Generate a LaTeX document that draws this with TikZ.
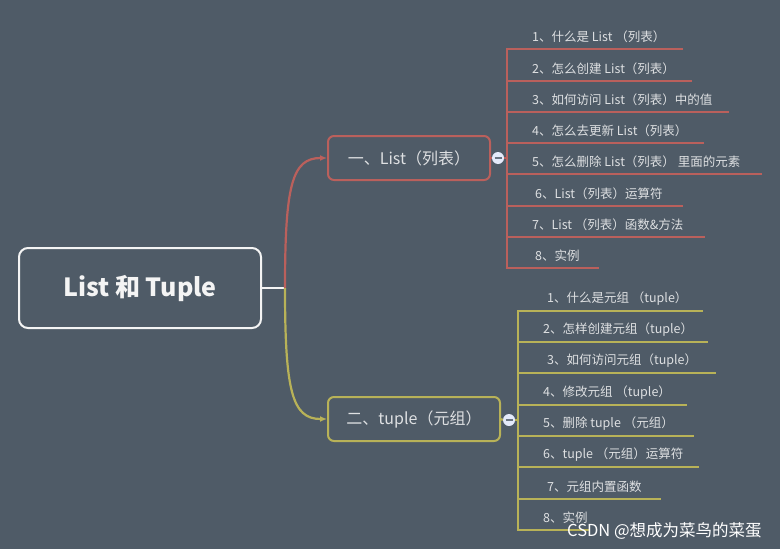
\documentclass[tikz,border=0pt]{standalone}
\usepackage{fontspec}
\setmainfont{Noto Sans CJK SC}
\usetikzlibrary{
  arrows.meta,
  positioning,
  calc
}
\definecolor{bgcolor}{RGB}{79, 91, 103}
\definecolor{rootcolor}{RGB}{244, 244, 244}
\definecolor{listcolor}{RGB}{186, 96, 92}
\definecolor{tuplecolor}{RGB}{184, 178, 88}
\definecolor{labelcolor}{RGB}{222, 224, 226}
\definecolor{knobcolor}{RGB}{228, 234, 250}
\definecolor{knobbar}{RGB}{105, 116, 130}
\tikzset{
rootblock/.style={
  draw=rootcolor,
  line width=2pt,
  rounded corners=9pt,
  minimum width=242pt,
  minimum height=80pt,
  text=rootcolor,
  font=\fontsize{25}{29}\selectfont\bfseries
},
branchblock/.style={
  draw=#1,
  line width=2pt,
  rounded corners=6pt,
  minimum height=44pt,
  text=labelcolor,
  font=\fontsize{16}{19}\selectfont
},
itemtext/.style={
  anchor=west,
  inner sep=0pt,
  text=labelcolor,
  font=\fontsize{12.5}{15}\selectfont
},
knob/.style={
  circle,
  fill=knobcolor,
  inner sep=0pt,
  minimum size=12pt
},
knobline/.style={
  draw=knobbar,
  line width=1.6pt
},
rootline/.style={
  draw=rootcolor,
  line width=2pt
},
listline/.style={
  draw=listcolor,
  line width=2.2pt
},
tupleline/.style={
  draw=tuplecolor,
  line width=2.2pt
},
arrow/.style={
  -{Latex[length=7pt,width=6pt]}
},
watermark/.style={
  anchor=west,
  inner sep=0pt,
  text=white,
  font=\fontsize{16.5}{19}\selectfont
}
}

\begin{document}
\begin{tikzpicture}[x=1pt, y=-1pt]

% ============================================================================
% FUNDO
% ============================================================================
\fill[bgcolor] (0,0) rectangle (780,549);
\useasboundingbox (0,0) rectangle (780,549);

% ============================================================================
% RAIZ
% ============================================================================
\node[rootblock] (root) at (140, 288) {List 和 Tuple};
\coordinate (hub) at (285, 288);
\draw[rootline] (root.east) -- (hub);

% ============================================================================
% RAMO LIST (Cima)
% ============================================================================
\node[branchblock=listcolor, minimum width=162pt] (list) at (409, 158) {一、List（列表）};
\draw[listline, arrow] (hub) .. controls (285, 185) and (292, 158) .. (list.west);

\node[knob] (listknob) at (498, 158) {};
\draw[knobline] ([xshift=-3.5pt]listknob.center) -- ([xshift=3.5pt]listknob.center);
\draw[listline] (list.east) -- (listknob.west);

\coordinate (l1a) at (507, 49);  \coordinate (l1b) at (683, 49);
\coordinate (l2a) at (507, 81);  \coordinate (l2b) at (692, 81);
\coordinate (l3a) at (507, 112); \coordinate (l3b) at (729, 112);
\coordinate (l4a) at (507, 143); \coordinate (l4b) at (704, 143);
\coordinate (l5a) at (507, 174); \coordinate (l5b) at (762, 174);
\coordinate (l6a) at (507, 206); \coordinate (l6b) at (683, 206);
\coordinate (l7a) at (507, 237); \coordinate (l7b) at (705, 237);
\coordinate (l8a) at (507, 268); \coordinate (l8b) at (599, 268);

\draw[listline] (listknob.east) -- (listknob.east -| l1a);
\draw[listline, line cap=rect] (l1a) -- (l8a);

\node[itemtext] (l1) at (532, 37)  {1、什么是 List （列表）};
\node[itemtext] (l2) at (532, 69)  {2、怎么创建 List（列表）};
\node[itemtext] (l3) at (532, 100) {3、如何访问 List（列表）中的值};
\node[itemtext] (l4) at (532, 131) {4、怎么去更新 List（列表）};
\node[itemtext] (l5) at (532, 162) {5、怎么删除 List（列表） 里面的元素};
\node[itemtext] (l6) at (535, 194) {6、List（列表）运算符};
\node[itemtext] (l7) at (532, 225) {7、List （列表）函数\&方法};
\node[itemtext] (l8) at (535, 256) {8、实例};

\draw[listline] (l1a) -- (l1b);
\draw[listline] (l2a) -- (l2b);
\draw[listline] (l3a) -- (l3b);
\draw[listline] (l4a) -- (l4b);
\draw[listline] (l5a) -- (l5b);
\draw[listline] (l6a) -- (l6b);
\draw[listline] (l7a) -- (l7b);
\draw[listline] (l8a) -- (l8b);

% ============================================================================
% RAMO TUPLE (Baixo)
% ============================================================================
\node[branchblock=tuplecolor, minimum width=172pt] (tuple) at (414, 419) {二、tuple（元组）};
\draw[tupleline, arrow] (hub) .. controls (285, 391) and (292, 419) .. (tuple.west);

\node[knob] (tupleknob) at (509, 420) {};
\draw[knobline] ([xshift=-3.5pt]tupleknob.center) -- ([xshift=3.5pt]tupleknob.center);
\draw[tupleline] (tuple.east) -- (tupleknob.west);

\coordinate (t1a) at (518, 311); \coordinate (t1b) at (703, 311);
\coordinate (t2a) at (518, 342); \coordinate (t2b) at (708, 342);
\coordinate (t3a) at (518, 373); \coordinate (t3b) at (716, 373);
\coordinate (t4a) at (518, 405); \coordinate (t4b) at (687, 405);
\coordinate (t5a) at (518, 436); \coordinate (t5b) at (694, 436);
\coordinate (t6a) at (518, 467); \coordinate (t6b) at (699, 467);
\coordinate (t7a) at (518, 499); \coordinate (t7b) at (661, 499);
\coordinate (t8a) at (518, 530); \coordinate (t8b) at (590, 530);

\draw[tupleline] (tupleknob.east) -- (tupleknob.east -| t1a);
\draw[tupleline, line cap=rect] (t1a) -- (t8a);

\node[itemtext] (t1) at (547, 299) {1、什么是元组 （tuple）};
\node[itemtext] (t2) at (543, 330) {2、怎样创建元组（tuple）};
\node[itemtext] (t3) at (547, 361) {3、如何访问元组（tuple）};
\node[itemtext] (t4) at (543, 393) {4、修改元组 （tuple）};
\node[itemtext] (t5) at (543, 424) {5、删除 tuple （元组）};
\node[itemtext] (t6) at (543, 455) {6、tuple （元组）运算符};
\node[itemtext] (t7) at (547, 487) {7、元组内置函数};
\node[itemtext] (t8) at (543, 518) {8、实例};

\draw[tupleline] (t1a) -- (t1b);
\draw[tupleline] (t2a) -- (t2b);
\draw[tupleline] (t3a) -- (t3b);
\draw[tupleline] (t4a) -- (t4b);
\draw[tupleline] (t5a) -- (t5b);
\draw[tupleline] (t6a) -- (t6b);
\draw[tupleline] (t7a) -- (t7b);
\draw[tupleline] (t8a) -- (t8b);

% Marca d'agua
\node[watermark] (mark) at (567, 531) {CSDN @想成为菜鸟的菜蛋};

\end{tikzpicture}
\end{document}
